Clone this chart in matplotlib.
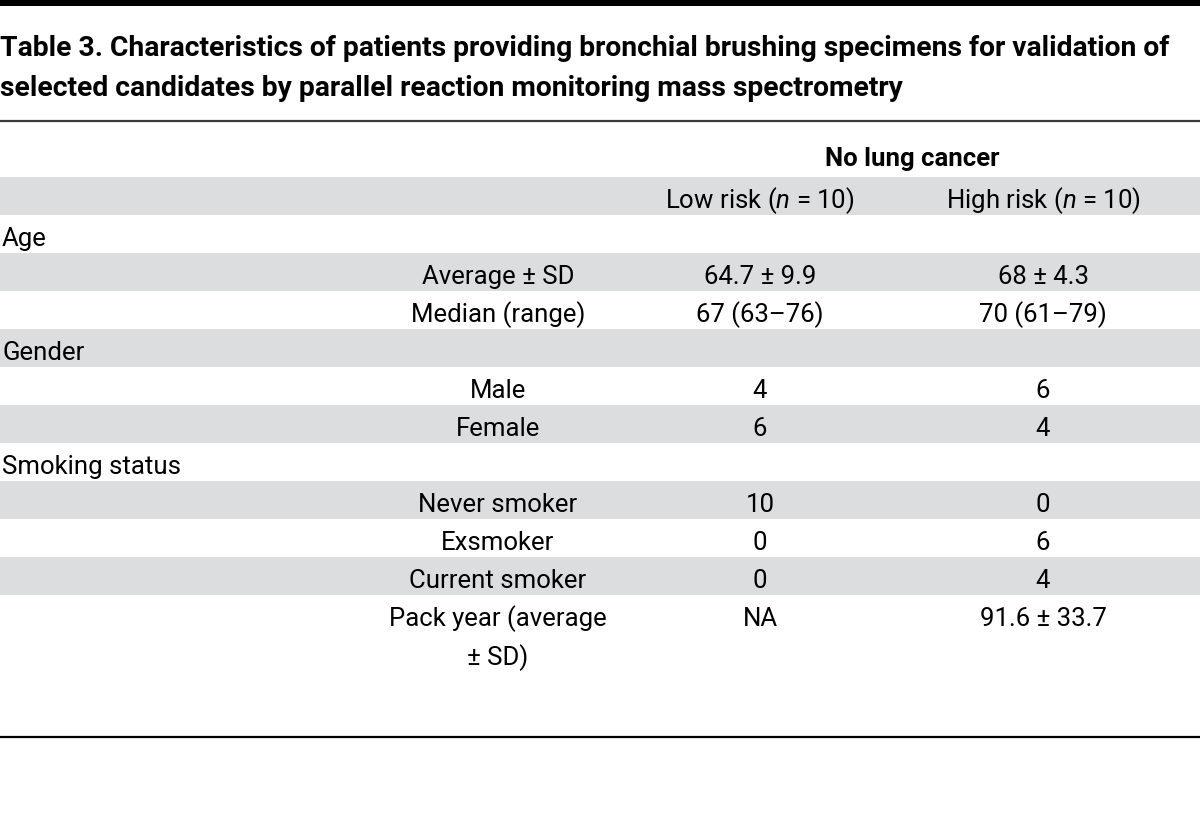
import matplotlib
matplotlib.use("Agg")
import matplotlib.pyplot as plt
from matplotlib import font_manager

# ---- table content ----
title_lines = [
    "Table 3. Characteristics of patients providing bronchial brushing specimens for validation of",
    "selected candidates by parallel reaction monitoring mass spectrometry",
]
group_header = "No lung cancer"
col_headers = ["Low risk ($\\it{n}$ = 10)", "High risk ($\\it{n}$ = 10)"]

# (section label, row label, low risk, high risk)
rows = [
    ("Age", "", "", ""),
    ("", "Average ± SD", "64.7 ± 9.9", "68 ± 4.3"),
    ("", "Median (range)", "67 (63–76)", "70 (61–79)"),
    ("Gender", "", "", ""),
    ("", "Male", "4", "6"),
    ("", "Female", "6", "4"),
    ("Smoking status", "", "", ""),
    ("", "Never smoker", "10", "0"),
    ("", "Exsmoker", "0", "6"),
    ("", "Current smoker", "0", "4"),
    ("", "Pack year (average\n± SD)", "NA", "91.6 ± 33.7"),
]

# ---- font choice ----
available = {f.name for f in font_manager.fontManager.ttflist}
font = "DejaVu Sans"
for cand in ["Liberation Sans Narrow", "DejaVu Sans Condensed", "Roboto"]:
    if cand in available:
        font = cand
        break
plt.rcParams["font.family"] = [font, "DejaVu Sans"]
plt.rcParams["mathtext.fontset"] = "custom"
plt.rcParams["mathtext.it"] = font + ":italic"
plt.rcParams["mathtext.rm"] = font

W, H = 1200, 828
fig = plt.figure(figsize=(W / 100, H / 100), dpi=100)
ax = fig.add_axes([0, 0, 1, 1])
ax.set_xlim(0, W)
ax.set_ylim(H, 0)
ax.axis("off")

band = "#dcdddf"
body_fs = 18.5
row_h = 38
head_top = 178
dy = 4  # text sits a little below the band centre
x_sec, x_lab, x_low, x_high = 2, 498, 760, 1043

# top rule and title
ax.axhspan(0, 7, color="black", lw=0)
for i, line in enumerate(title_lines):
    ax.text(0, 48 + i * 41, line, fontsize=20.3, fontweight="bold",
            ha="left", va="center")
ax.axhline(122, color="#3a3a3a", lw=1.6)

# header rows
ax.text(912, 159, group_header, fontsize=body_fs,
        fontweight="bold", ha="center", va="center")
ax.axhspan(head_top, head_top + row_h, color=band, lw=0)
ax.text(x_low, head_top + row_h / 2 + dy, col_headers[0], fontsize=body_fs,
        ha="center", va="center")
ax.text(x_high, head_top + row_h / 2 + dy, col_headers[1], fontsize=body_fs,
        ha="center", va="center")

# body rows
for i, (sec, lab, low, high) in enumerate(rows):
    top = head_top + (i + 1) * row_h
    cy = top + row_h / 2 + dy
    if i % 2 == 1:
        ax.axhspan(top, top + row_h, color=band, lw=0)
    if sec:
        ax.text(x_sec, cy, sec, fontsize=body_fs, ha="left", va="center")
    if "\n" in lab:
        parts = lab.split("\n")
        for k, p in enumerate(parts):
            ax.text(x_lab, cy + k * 39, p, fontsize=body_fs,
                    ha="center", va="center")
    elif lab:
        ax.text(x_lab, cy, lab, fontsize=body_fs, ha="center", va="center")
    ax.text(x_low, cy, low, fontsize=body_fs, ha="center", va="center")
    ax.text(x_high, cy, high, fontsize=body_fs, ha="center", va="center")

ax.axhline(738, color="black", lw=1.6)

fig.savefig("out.png", dpi=100)
